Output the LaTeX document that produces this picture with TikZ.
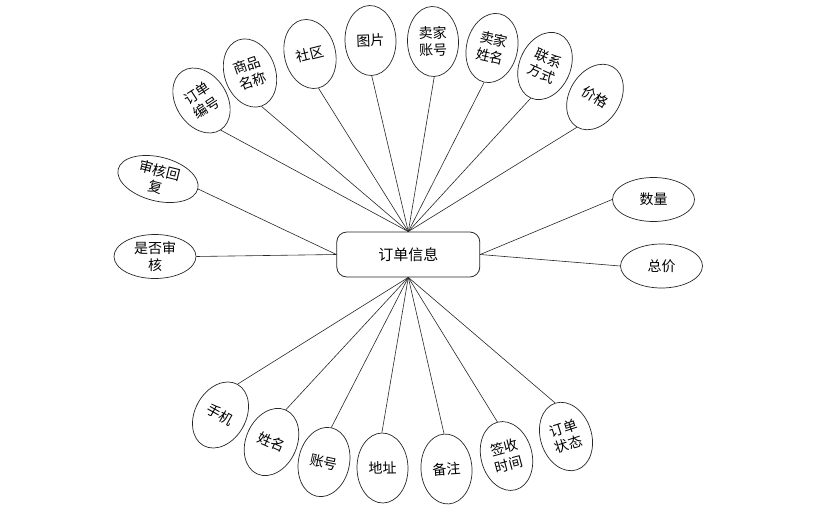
\documentclass[tikz,border=0pt]{standalone}
\usepackage{fontspec}
\newfontfamily\cjk{Noto Sans CJK SC}
\usetikzlibrary{shapes.geometric}
\tikzset{
  attr/.style={draw=black!85,line width=0.7pt,ellipse,minimum width=51pt,
               minimum height=70pt,inner sep=0pt,align=center,
               font=\cjk\fontsize{14}{17}\selectfont},
  wideattr/.style={attr,minimum width=82pt,minimum height=44pt},
  link/.style={draw=black!85,line width=0.6pt},
}
\newcommand{\ordattr}[5]{%
  \node[attr,rotate=#4] (#1) at (#2,#3) {#5};
}
\newcommand{\ordwide}[5]{%
  \node[wideattr,rotate=#4] (#1) at (#2,#3) {#5};
}

\begin{document}
\begin{tikzpicture}[x=1pt,y=-1pt]
  \useasboundingbox (0,0) rectangle (839,514);
  \node[draw=black!85,line width=0.8pt,rounded corners=10pt,minimum width=143pt,
        minimum height=45pt,font=\cjk\fontsize{15}{18}\selectfont] (ddxx) at (408.3,254.5) {订单信息};
  % upper fan
  \ordattr{ddbh}{201.5}{100.5}{33}{订单\\编号}
  \ordattr{spmc}{250}{73}{19}{商品\\名称}
  \ordattr{sq}{310}{54}{14}{社区}
  \ordattr{tp}{370.5}{40.5}{2}{图片}
  \ordattr{mjzh}{433}{41.5}{2}{卖家\\账号}
  \ordattr{mjxm}{492}{48}{-13}{卖家\\姓名}
  \ordattr{lxfs}{545}{66}{-24}{联系\\方式}
  \ordattr{jg}{595}{97}{-31}{价格}
  % sides
  \ordwide{shhf}{158}{179}{-14}{审核回\\复}
  \ordwide{sfsh}{155}{256.5}{0}{是否审\\核}
  \ordwide{sl}{653.5}{199.5}{0}{数量}
  \ordwide{zj}{661.5}{266}{0}{总价}
  % lower fan
  \ordattr{sj}{220.5}{415}{-29}{手机}
  \ordattr{xm}{271.5}{442}{-24}{姓名}
  \ordattr{zh}{324}{462}{-12}{账号}
  \ordattr{dz}{382.5}{468}{1}{地址}
  \ordattr{bz}{446.5}{469}{4}{备注}
  \ordattr{sssj}{506.5}{456}{15}{签收\\时间}
  \ordattr{ddzt}{566}{436.5}{18}{订单\\状态}

  \draw[link] (ddxx.north) -- (ddbh.south);
  \draw[link] (ddxx.north) -- (spmc.south);
  \draw[link] (ddxx.north) -- (sq.south);
  \draw[link] (ddxx.north) -- (tp.south);
  \draw[link] (ddxx.north) -- (mjzh.south);
  \draw[link] (ddxx.north) -- (mjxm.south);
  \draw[link] (ddxx.north) -- (lxfs.south);
  \draw[link] (ddxx.north) -- (jg.south);
  \draw[link] (ddxx.west) -- (shhf.east);
  \draw[link] (ddxx.west) -- (sfsh.east);
  \draw[link] (ddxx.east) -- (sl.west);
  \draw[link] (ddxx.east) -- (zj.west);
  \draw[link] (ddxx.south) -- (sj.north);
  \draw[link] (ddxx.south) -- (xm.north);
  \draw[link] (ddxx.south) -- (zh.north);
  \draw[link] (ddxx.south) -- (dz.north);
  \draw[link] (ddxx.south) -- (bz.north);
  \draw[link] (ddxx.south) -- (sssj.north);
  \draw[link] (ddxx.south) -- (ddzt.north);
\end{tikzpicture}
\end{document}
